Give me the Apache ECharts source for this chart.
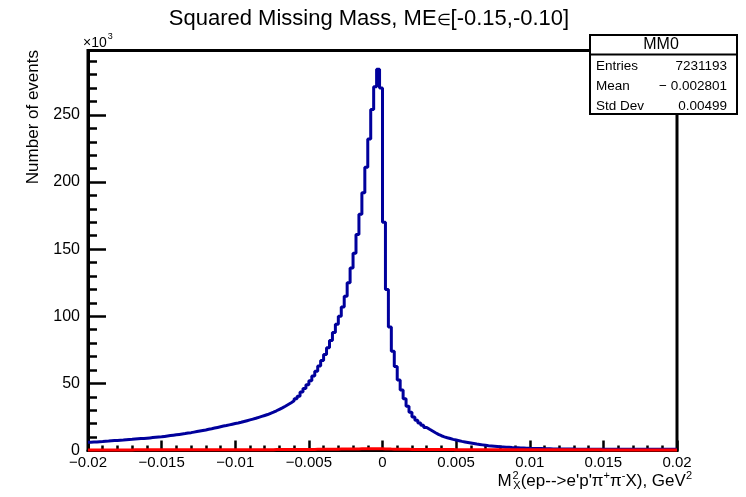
<!DOCTYPE html>
<html><head><meta charset="utf-8">
<script src="https://cdn.jsdelivr.net/npm/echarts@6/dist/echarts.min.js"></script>
<style>html,body{margin:0;padding:0;background:#fff}#c{width:746px;height:497px}</style>
</head><body><div id="c"></div>
<script>
// Histogram binning: 200 bins from -0.02 to 0.02 GeV^2
const binLow = -0.02;
const binWidth = 0.0002;

// MM0 (blue) bin contents, in units of 10^3 events
const mm0Counts = [
  6.1, 6.3, 6.4, 6.6, 6.7, 6.9, 7.0, 7.2, 7.4, 7.5,
  7.7, 7.8, 8.0, 8.2, 8.3, 8.5, 8.7, 8.9, 9.0, 9.2,
  9.4, 9.6, 9.8, 10.0, 10.2, 10.5, 10.8, 11.1, 11.4, 11.7,
  12.0, 12.3, 12.6, 13.0, 13.3, 13.7, 14.1, 14.5, 14.9, 15.3,
  15.8, 16.2, 16.7, 17.2, 17.7, 18.2, 18.6, 19.1, 19.6, 20.1,
  20.5, 21.0, 21.6, 22.2, 22.8, 23.4, 24.0, 24.7, 25.4, 26.1,
  26.8, 27.7, 28.6, 29.6, 30.7, 31.8, 33.0, 34.3, 35.6, 37.0,
  38.5, 40.5, 43.5, 46.2, 49.0, 52.0, 55.5, 59.0, 63.0, 67.0,
  71.5, 76.5, 82.0, 88.0, 94.0, 100, 107, 115, 125, 136,
  147, 161, 176, 192, 211, 232, 254, 271, 284, 270,
  170, 120, 92, 74, 62.5, 52.6, 45, 38.5, 33, 28.5,
  25, 22.5, 20.5, 18.8, 17.2, 15.8, 14.5, 13.2, 12.0, 11.0,
  10.2, 9.5, 8.9, 8.3, 7.8, 7.3, 6.8, 6.4, 6.0, 5.6,
  5.2, 4.8, 4.5, 4.2, 3.9, 3.6, 3.4, 3.2, 3.0, 2.8,
  2.65, 2.5, 2.35, 2.2, 2.1, 2.0, 1.9, 1.8, 1.7, 1.6,
  1.55, 1.5, 1.45, 1.4, 1.35, 1.3, 1.25, 1.2, 1.18, 1.15,
  1.12, 1.1, 1.08, 1.06, 1.04, 1.02, 1.0, 1.0, 0.98, 0.97,
  0.96, 0.95, 0.95, 0.94, 0.93, 0.93, 0.92, 0.92, 0.91, 0.91,
  0.9, 0.9, 0.89, 0.89, 0.88, 0.88, 0.88, 0.87, 0.87, 0.87,
  0.86, 0.86, 0.86, 0.85, 0.85, 0.85, 0.85, 0.84, 0.84, 0.84
];

// second (red) histogram, in units of 10^3 events
const bkgCounts = [
  0.45, 0.45, 0.45, 0.45, 0.45, 0.45, 0.45, 0.45, 0.45, 0.45,
  0.46, 0.46, 0.46, 0.46, 0.46, 0.47, 0.47, 0.47, 0.47, 0.47,
  0.48, 0.48, 0.48, 0.48, 0.49, 0.49, 0.49, 0.5, 0.5, 0.5,
  0.5, 0.51, 0.51, 0.51, 0.52, 0.52, 0.52, 0.53, 0.53, 0.53,
  0.54, 0.54, 0.55, 0.55, 0.55, 0.56, 0.56, 0.57, 0.57, 0.58,
  0.58, 0.59, 0.59, 0.6, 0.6, 0.61, 0.61, 0.62, 0.63, 0.63,
  0.64, 0.65, 0.65, 0.66, 0.67, 0.68, 0.69, 0.7, 0.71, 0.72,
  0.73, 0.74, 0.75, 0.77, 0.78, 0.8, 0.82, 0.84, 0.86, 0.88,
  0.9, 0.92, 0.95, 0.98, 1.0, 1.03, 1.06, 1.09, 1.12, 1.15,
  1.18, 1.2, 1.22, 1.24, 1.26, 1.28, 1.3, 1.3, 1.3, 1.28,
  1.2, 1.12, 1.05, 1.0, 0.96, 0.92, 0.89, 0.86, 0.84, 0.82,
  0.8, 0.78, 0.77, 0.75, 0.74, 0.73, 0.72, 0.71, 0.7, 0.69,
  0.68, 0.67, 0.66, 0.66, 0.65, 0.64, 0.64, 0.63, 0.62, 0.62,
  0.61, 0.61, 0.6, 0.6, 0.59, 0.59, 0.58, 0.58, 0.57, 0.57,
  0.56, 0.56, 0.56, 0.55, 0.55, 0.54, 0.54, 0.54, 0.53, 0.53,
  0.53, 0.52, 0.52, 0.52, 0.51, 0.51, 0.51, 0.5, 0.5, 0.5,
  0.5, 0.49, 0.49, 0.49, 0.49, 0.48, 0.48, 0.48, 0.48, 0.47,
  0.47, 0.47, 0.47, 0.47, 0.46, 0.46, 0.46, 0.46, 0.46, 0.45,
  0.45, 0.45, 0.45, 0.45, 0.45, 0.44, 0.44, 0.44, 0.44, 0.44,
  0.44, 0.44, 0.43, 0.43, 0.43, 0.43, 0.43, 0.43, 0.43, 0.43
];

const chartTitle = 'Squared Missing Mass, ME{e|\u2208}[-0.15,-0.10]';
const yTitle = 'Number of events';
const statsName = 'MM0';
const statsLabels = ['Entries', 'Mean', 'Std Dev'];
const statsValues = ['7231193', '\u2212 0.002801', '0.00499'];

const FONT = '"Liberation Sans", Arial, Helvetica, sans-serif';

function histPoints(counts) {
  const pts = counts.map((v, i) => [binLow + i * binWidth, v]);
  pts.push([binLow + counts.length * binWidth, counts[counts.length - 1]]);
  return pts;
}

function fmtX(v) {
  const r = +(+v).toFixed(4);
  if (Math.abs(r) < 1e-9) return '0';
  return (r < 0 ? '\u2212' : '') + String(Math.abs(r));
}

const chart = echarts.init(document.getElementById('c'), null, {renderer: 'canvas'});

const option = {
  animation: false,
  backgroundColor: '#fff',
  grid: {
    left: 88, right: 69, top: 50.5, bottom: 46.5,
    show: true, borderColor: '#000', borderWidth: 3, backgroundColor: 'transparent'
  },
  xAxis: {
    type: 'value', min: -0.02, max: 0.02, interval: 0.005,
    axisLine: {show: true, onZero: false, lineStyle: {color: '#000', width: 3}},
    axisTick: {show: true, inside: true, length: 10, lineStyle: {color: '#000', width: 2.5}},
    minorTick: {show: true, splitNumber: 5, length: 5, lineStyle: {color: '#000', width: 2.5}},
    splitLine: {show: false},
    axisLabel: {color: '#000', fontSize: 15, fontFamily: FONT, margin: 5, formatter: fmtX}
  },
  yAxis: {
    type: 'value', min: 0, max: 298, interval: 50,
    axisLine: {show: true, onZero: false, lineStyle: {color: '#000', width: 3}},
    axisTick: {show: true, inside: true, length: 18, lineStyle: {color: '#000', width: 2.5}},
    minorTick: {show: true, splitNumber: 5, length: 9, lineStyle: {color: '#000', width: 2.5}},
    splitLine: {show: false},
    axisLabel: {color: '#000', fontSize: 16, fontFamily: FONT, margin: 8,
      formatter: v => (Math.round(v) % 50 === 0 ? String(Math.round(v)) : '')}
  },
  series: [
    {
      type: 'line', step: 'end', showSymbol: false, symbol: 'none',
      data: histPoints(mm0Counts),
      lineStyle: {color: '#00009c', width: 3}, z: 3
    },
    {
      type: 'line', step: 'end', showSymbol: false, symbol: 'none',
      data: histPoints(bkgCounts),
      lineStyle: {color: '#ff0000', width: 3}, z: 4
    }
  ],
  graphic: [
    {type: 'text', x: 369, y: 19, z: 10,
      style: {text: chartTitle, font: '22px ' + FONT, fill: '#000', textAlign: 'center', textVerticalAlign: 'middle',
        rich: {e: {fontSize: 16, fontFamily: FONT, padding: [3, 0, 0, 0]}}}},
    {type: 'text', x: 83, y: 43, z: 10,
      style: {text: '\u00d710{s|3}', font: '14px ' + FONT, fill: '#000', textAlign: 'left', textVerticalAlign: 'middle',
        rich: {s: {fontSize: 9, fontFamily: FONT, padding: [0, 0, 12, 1]}}}},
    {type: 'text', x: 33, y: 50, rotation: Math.PI / 2, z: 10,
      style: {text: yTitle, font: '17px ' + FONT, fill: '#000', textAlign: 'right', textVerticalAlign: 'middle'}},
    {type: 'text', x: 692, y: 481, z: 10,
      style: {
        text: 'M{sup0|2}{sub|X}(ep-->e\'p\'\u03c0{sup|+}\u03c0{sup|-}X), GeV{sup|2}',
        font: '17px ' + FONT, fill: '#000', textAlign: 'right', textVerticalAlign: 'middle',
        rich: {
          sup0: {fontSize: 11, fontFamily: FONT, padding: [0, 1, 11, 1]},
          sub: {fontSize: 11, fontFamily: FONT, width: 1, padding: [10, 0, 0, 0]},
          sup: {fontSize: 11, fontFamily: FONT, padding: [0, 0, 11, 0]}
        }
      }},
    {type: 'rect', z: 20, shape: {x: 590, y: 35, width: 147, height: 79},
      style: {fill: '#fff', stroke: '#000', lineWidth: 2}},
    {type: 'line', z: 21, shape: {x1: 590, y1: 54.5, x2: 737, y2: 54.5},
      style: {stroke: '#000', lineWidth: 2}},
    {type: 'text', x: 661, y: 44.5, z: 22,
      style: {text: statsName, font: '16px ' + FONT, fill: '#000', textAlign: 'center', textVerticalAlign: 'middle'}}
  ].concat(statsLabels.map((s, i) => ({
    type: 'text', x: 596, y: 66 + i * 20, z: 22,
    style: {text: s, font: '13.5px ' + FONT, fill: '#000', textAlign: 'left', textVerticalAlign: 'middle'}
  }))).concat(statsValues.map((s, i) => ({
    type: 'text', x: 727, y: 66 + i * 20, z: 22,
    style: {text: s, font: '13.5px ' + FONT, fill: '#000', textAlign: 'right', textVerticalAlign: 'middle'}
  })))
};

chart.setOption(option);
</script>
</body></html>
